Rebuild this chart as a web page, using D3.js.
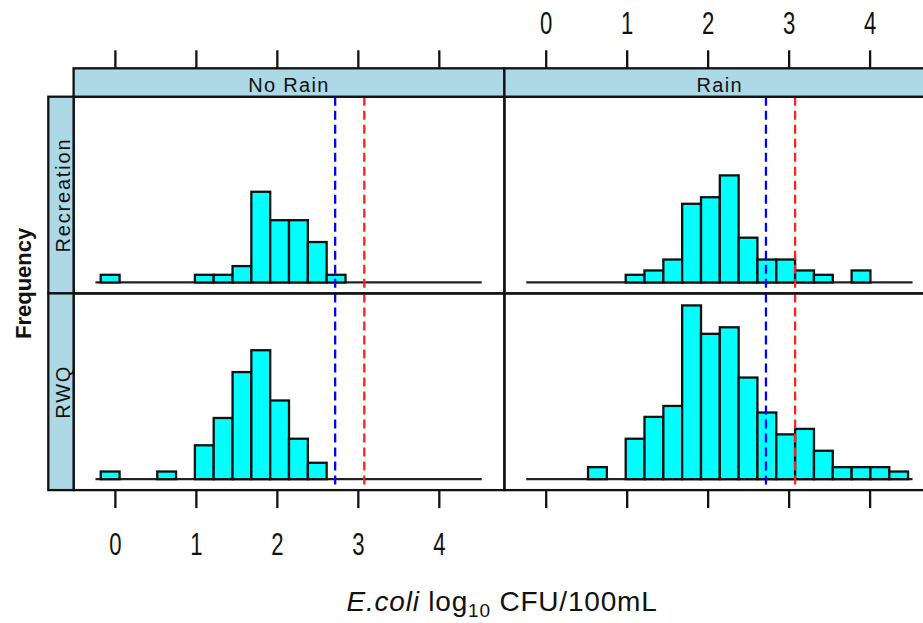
<!DOCTYPE html>
<html>
<head>
<meta charset="utf-8">
<script src="https://cdn.jsdelivr.net/npm/d3@7/dist/d3.min.js"></script>
<style>
  body { margin: 0; background: #fff; }
  svg { display: block; font-family: "Liberation Sans", Arial, sans-serif; }
</style>
</head>
<body>
<svg id="chart" width="923" height="623"></svg>
<script>
// conditioning levels
const columns = ["No Rain", "Rain"];
const rows = ["Recreation", "RWQ"];

// shared histogram breaks (log10 CFU/100mL)
const breaks = [-0.175, 0.058, 0.29, 0.523, 0.755, 0.988, 1.22, 1.453, 1.685, 1.918, 2.15,
                2.383, 2.615, 2.848, 3.08, 3.313, 3.545, 3.778, 4.01, 4.243, 4.475];

// percent of samples per bin
const recreationNoRain = [0.7, 0, 0, 0, 0, 0.7, 0.7, 1.5, 8.3, 5.7, 5.7, 3.7, 0.7, 0, 0, 0, 0, 0, 0, 0];
const recreationRain   = [0, 0, 0, 0, 0, 0.7, 1.1, 2.1, 7.2, 7.8, 9.8, 4.1, 2.1, 2.1, 1.1, 0.7, 0, 1.1, 0, 0];
const rwqNoRain        = [0.7, 0, 0, 0.7, 0, 3.1, 5.6, 9.8, 11.8, 7.2, 3.7, 1.5, 0, 0, 0, 0, 0, 0, 0, 0];
const rwqRain          = [0, 0, 0, 1.1, 0, 3.7, 5.7, 6.7, 15.9, 13.3, 13.9, 9.3, 6.1, 4.1, 4.6, 2.6, 1.1, 1.1, 1.1, 0.7];

const xTicks = [0, 1, 2, 3, 4];
const guideBlue = 2.72;   // guideline values
const guideRed = 3.08;
const baseRange = [-0.24, 4.53];
const xLim = [-0.51, 4.81];
const yLim = [-1.0, 17.0];

const values = {
  "Recreation|No Rain": recreationNoRain,
  "Recreation|Rain": recreationRain,
  "RWQ|No Rain": rwqNoRain,
  "RWQ|Rain": rwqRain
};

const svg = d3.select("#chart");
const padLeft = 73.6, padTop = 96.7, panelW = 430.8, panelH = 196.7;
const stripH = 28.4, sideStripW = 25.3;
const ink = "#111";

const x = d3.scaleLinear().domain(xLim).range([0, panelW]);
const y = d3.scaleLinear().domain(yLim).range([panelH, 0]);

svg.append("defs").append("clipPath").attr("id", "clip")
  .append("rect").attr("width", panelW).attr("height", panelH);

rows.forEach((row, r) => {
  columns.forEach((col, c) => {
    const g = svg.append("g")
      .attr("transform", "translate(" + (padLeft + c * panelW) + "," + (padTop + r * panelH) + ")");
    const inner = g.append("g").attr("clip-path", "url(#clip)");
    const data = values[row + "|" + col].map((v, i) => ({x0: breaks[i], x1: breaks[i + 1], v: v}));

    inner.append("line")
      .attr("x1", x(baseRange[0])).attr("x2", x(baseRange[1]))
      .attr("y1", y(0)).attr("y2", y(0))
      .attr("stroke", "#222").attr("stroke-width", 2.2);

    inner.selectAll("rect.bar")
      .data(data.filter(d => d.v > 0))
      .join("rect")
      .attr("class", "bar")
      .attr("x", d => x(d.x0))
      .attr("width", d => x(d.x1) - x(d.x0))
      .attr("y", d => y(d.v))
      .attr("height", d => y(0) - y(d.v))
      .attr("fill", "#00ffff")
      .attr("stroke", ink)
      .attr("stroke-width", 2.3);

    [[guideBlue, "#0000ff"], [guideRed, "#ff2020"]].forEach(([v, colr]) => {
      inner.append("line")
        .attr("x1", x(v)).attr("x2", x(v))
        .attr("y1", 0).attr("y2", panelH)
        .attr("stroke", colr).attr("stroke-width", 2.3)
        .attr("stroke-dasharray", "9,5");
    });

    g.append("rect")
      .attr("width", panelW).attr("height", panelH)
      .attr("fill", "none").attr("stroke", ink).attr("stroke-width", 2.3);
  });
});

// top strips
columns.forEach((col, c) => {
  const s = svg.append("g").attr("transform", "translate(" + (padLeft + c * panelW) + "," + (padTop - stripH) + ")");
  s.append("rect").attr("width", panelW).attr("height", stripH)
    .attr("fill", "#add8e6").attr("stroke", ink).attr("stroke-width", 2.3);
  s.append("text").attr("x", panelW / 2).attr("y", 23.5)
    .attr("text-anchor", "middle").attr("font-size", 20).attr("letter-spacing", 1.3)
    .attr("fill", ink).text(col);
});

// side strips
rows.forEach((row, r) => {
  const s = svg.append("g").attr("transform", "translate(" + (padLeft - sideStripW) + "," + (padTop + r * panelH) + ")");
  s.append("rect").attr("width", sideStripW).attr("height", panelH)
    .attr("fill", "#add8e6").attr("stroke", ink).attr("stroke-width", 2.3);
  s.append("text")
    .attr("transform", "translate(" + (sideStripW - 4) + "," + (panelH / 2) + ") rotate(-90)")
    .attr("text-anchor", "middle").attr("font-size", 20).attr("letter-spacing", 1.8)
    .attr("fill", ink).text(row);
});

// axes: ticks on every column, labels alternating
columns.forEach((col, c) => {
  const xs = x.copy().range([padLeft + c * panelW, padLeft + (c + 1) * panelW]);
  const topAxis = svg.append("g").attr("transform", "translate(0," + (padTop - stripH) + ")")
    .call(d3.axisTop(xs).tickValues(xTicks).tickSize(18).tickSizeOuter(0).tickPadding(12)
      .tickFormat(c === 1 ? d3.format("d") : () => ""));
  const bottomAxis = svg.append("g").attr("transform", "translate(0," + (padTop + 2 * panelH) + ")")
    .call(d3.axisBottom(xs).tickValues(xTicks).tickSize(18).tickSizeOuter(0).tickPadding(19)
      .tickFormat(c === 0 ? d3.format("d") : () => ""));
  [topAxis, bottomAxis].forEach(a => {
    a.select(".domain").remove();
    a.selectAll("line").attr("stroke", ink).attr("stroke-width", 2.3);
    // reference digits are condensed and tall
    a.selectAll("text").attr("font-size", 27).attr("fill", ink)
      .attr("font-family", "'Liberation Sans', Arial, sans-serif")
      .attr("transform", "scale(0.82,1.15)");
  });
});

// axis titles
svg.append("text")
  .attr("transform", "translate(31," + (padTop + panelH - 10) + ") rotate(-90)")
  .attr("text-anchor", "middle").attr("font-size", 22).attr("font-weight", "bold")
  .attr("fill", ink).text("Frequency");

const xlab = svg.append("text")
  .attr("x", 502).attr("y", 611)
  .attr("text-anchor", "middle").attr("font-size", 28).attr("letter-spacing", 0.8)
  .attr("fill", ink);
xlab.append("tspan").attr("font-style", "italic").text("E.coli");
xlab.append("tspan").text(" log");
xlab.append("tspan").attr("font-size", 19).attr("dy", 6).text("10");
xlab.append("tspan").attr("dy", -6).text(" CFU/100mL");
</script>
</body>
</html>
